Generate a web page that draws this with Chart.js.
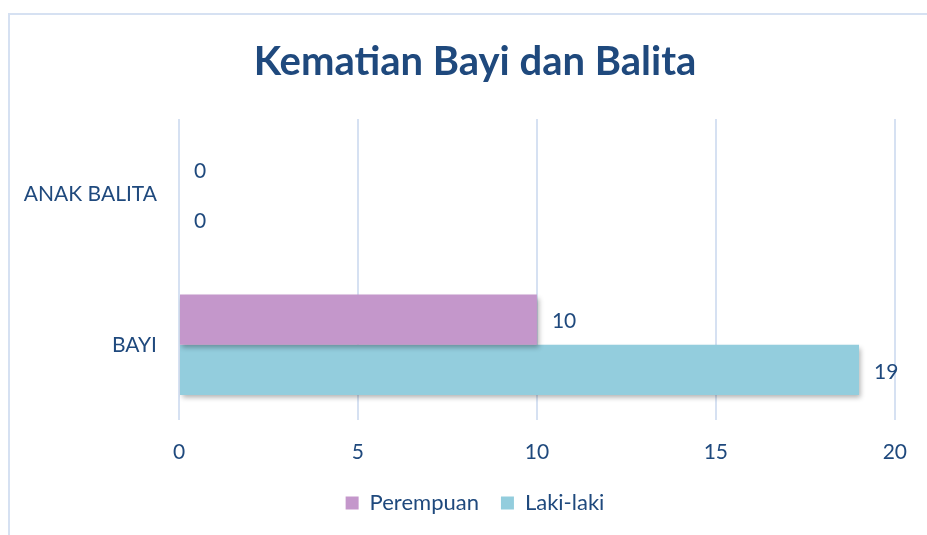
<!DOCTYPE html>
<html>
<head>
<meta charset="utf-8">
<script src="https://cdn.jsdelivr.net/npm/chart.js@4/dist/chart.umd.min.js"></script>
<style>
  html, body { margin: 0; padding: 0; background: #fff; }
  #wrap { width: 927px; height: 535px; }
</style>
</head>
<body>
<div id="wrap"><canvas id="grafik"></canvas></div>
<script>
// data
var kategori = ["ANAK BALITA", "BAYI"];
var perempuan = [0, 10];
var lakiLaki = [0, 19];
var tickX = [0, 5, 10, 15, 20];

var warnaTeks = "#1F497D";
var fontDasar = "Lato";

// bingkai chart
var bingkai = {
  id: "bingkai",
  beforeDraw: function (chart) {
    var ctx = chart.ctx;
    ctx.save();
    ctx.strokeStyle = "#D6E1F2";
    ctx.lineWidth = 2;
    ctx.strokeRect(9, 14, 1000, 1000);
    ctx.restore();
  },
};

// bayangan batang
var bayangan = {
  id: "bayangan",
  beforeDatasetsDraw: function (chart) {
    var ctx = chart.ctx;
    ctx.save();
    ctx.shadowColor = "rgba(0,0,0,0.3)";
    ctx.shadowBlur = 5;
    ctx.shadowOffsetX = 2;
    ctx.shadowOffsetY = 3;
  },
  afterDatasetsDraw: function (chart) {
    chart.ctx.restore();
  },
};

// label nilai di ujung batang + label kategori (tanpa clip)
var labelNilai = {
  id: "labelNilai",
  afterDatasetsDraw: function (chart) {
    var ctx = chart.ctx;
    ctx.save();
    ctx.font = "21px " + fontDasar;
    ctx.fillStyle = warnaTeks;
    ctx.textAlign = "left";
    ctx.textBaseline = "middle";
    chart.data.datasets.forEach(function (ds, i) {
      var meta = chart.getDatasetMeta(i);
      meta.data.forEach(function (bar, j) {
        ctx.fillText(String(ds.data[j]), bar.x + 15, bar.y + 2);
      });
    });
    var sy = chart.scales.y;
    ctx.textAlign = "right";
    kategori.forEach(function (k, i) {
      ctx.fillText(k, chart.chartArea.left - 22, sy.getPixelForTick(i));
    });
    ctx.restore();
  },
};

var canvas = document.getElementById("grafik");
var chart = new Chart(canvas, {
  type: "bar",
  data: {
    labels: kategori,
    datasets: [
      {
        label: "Perempuan",
        data: perempuan,
        backgroundColor: "#C497CB",
        borderWidth: 0,
      },
      {
        label: "Laki-laki",
        data: lakiLaki,
        backgroundColor: "#93CDDD",
        borderWidth: 0,
      },
    ],
  },
  options: {
    indexAxis: "y",
    responsive: true,
    maintainAspectRatio: false,
    animation: false,
    categoryPercentage: 0.667,
    barPercentage: 1,
    layout: { padding: { left: 50, right: 27, top: 38, bottom: 11 } },
    plugins: {
      title: {
        display: true,
        text: "Kematian Bayi dan Balita",
        color: warnaTeks,
        font: { family: fontDasar, size: 40, weight: "bold" },
        padding: { top: 0, bottom: 33 },
      },
      legend: {
        display: true,
        position: "bottom",
        labels: {
          color: warnaTeks,
          font: { family: fontDasar, size: 22 },
          boxWidth: 13,
          boxHeight: 13,
          padding: 22,
        },
      },
      tooltip: { enabled: false },
    },
    scales: {
      x: {
        min: 0,
        max: 20,
        afterBuildTicks: function (scale) {
          scale.ticks = tickX.map(function (v) { return { value: v }; });
        },
        afterFit: function (scale) {
          scale.height = 50;
        },
        grid: { color: "#D6E1F2", lineWidth: 2, drawTicks: false },
        border: { display: false },
        ticks: {
          color: warnaTeks,
          font: { family: fontDasar, size: 21 },
          padding: 20,
        },
      },
      y: {
        afterFit: function (scale) {
          scale.width = 129;
        },
        grid: { display: false, drawTicks: false },
        border: { display: false },
        ticks: { display: false },
      },
    },
  },
  plugins: [bingkai, bayangan, labelNilai],
});
</script>
</body>
</html>
